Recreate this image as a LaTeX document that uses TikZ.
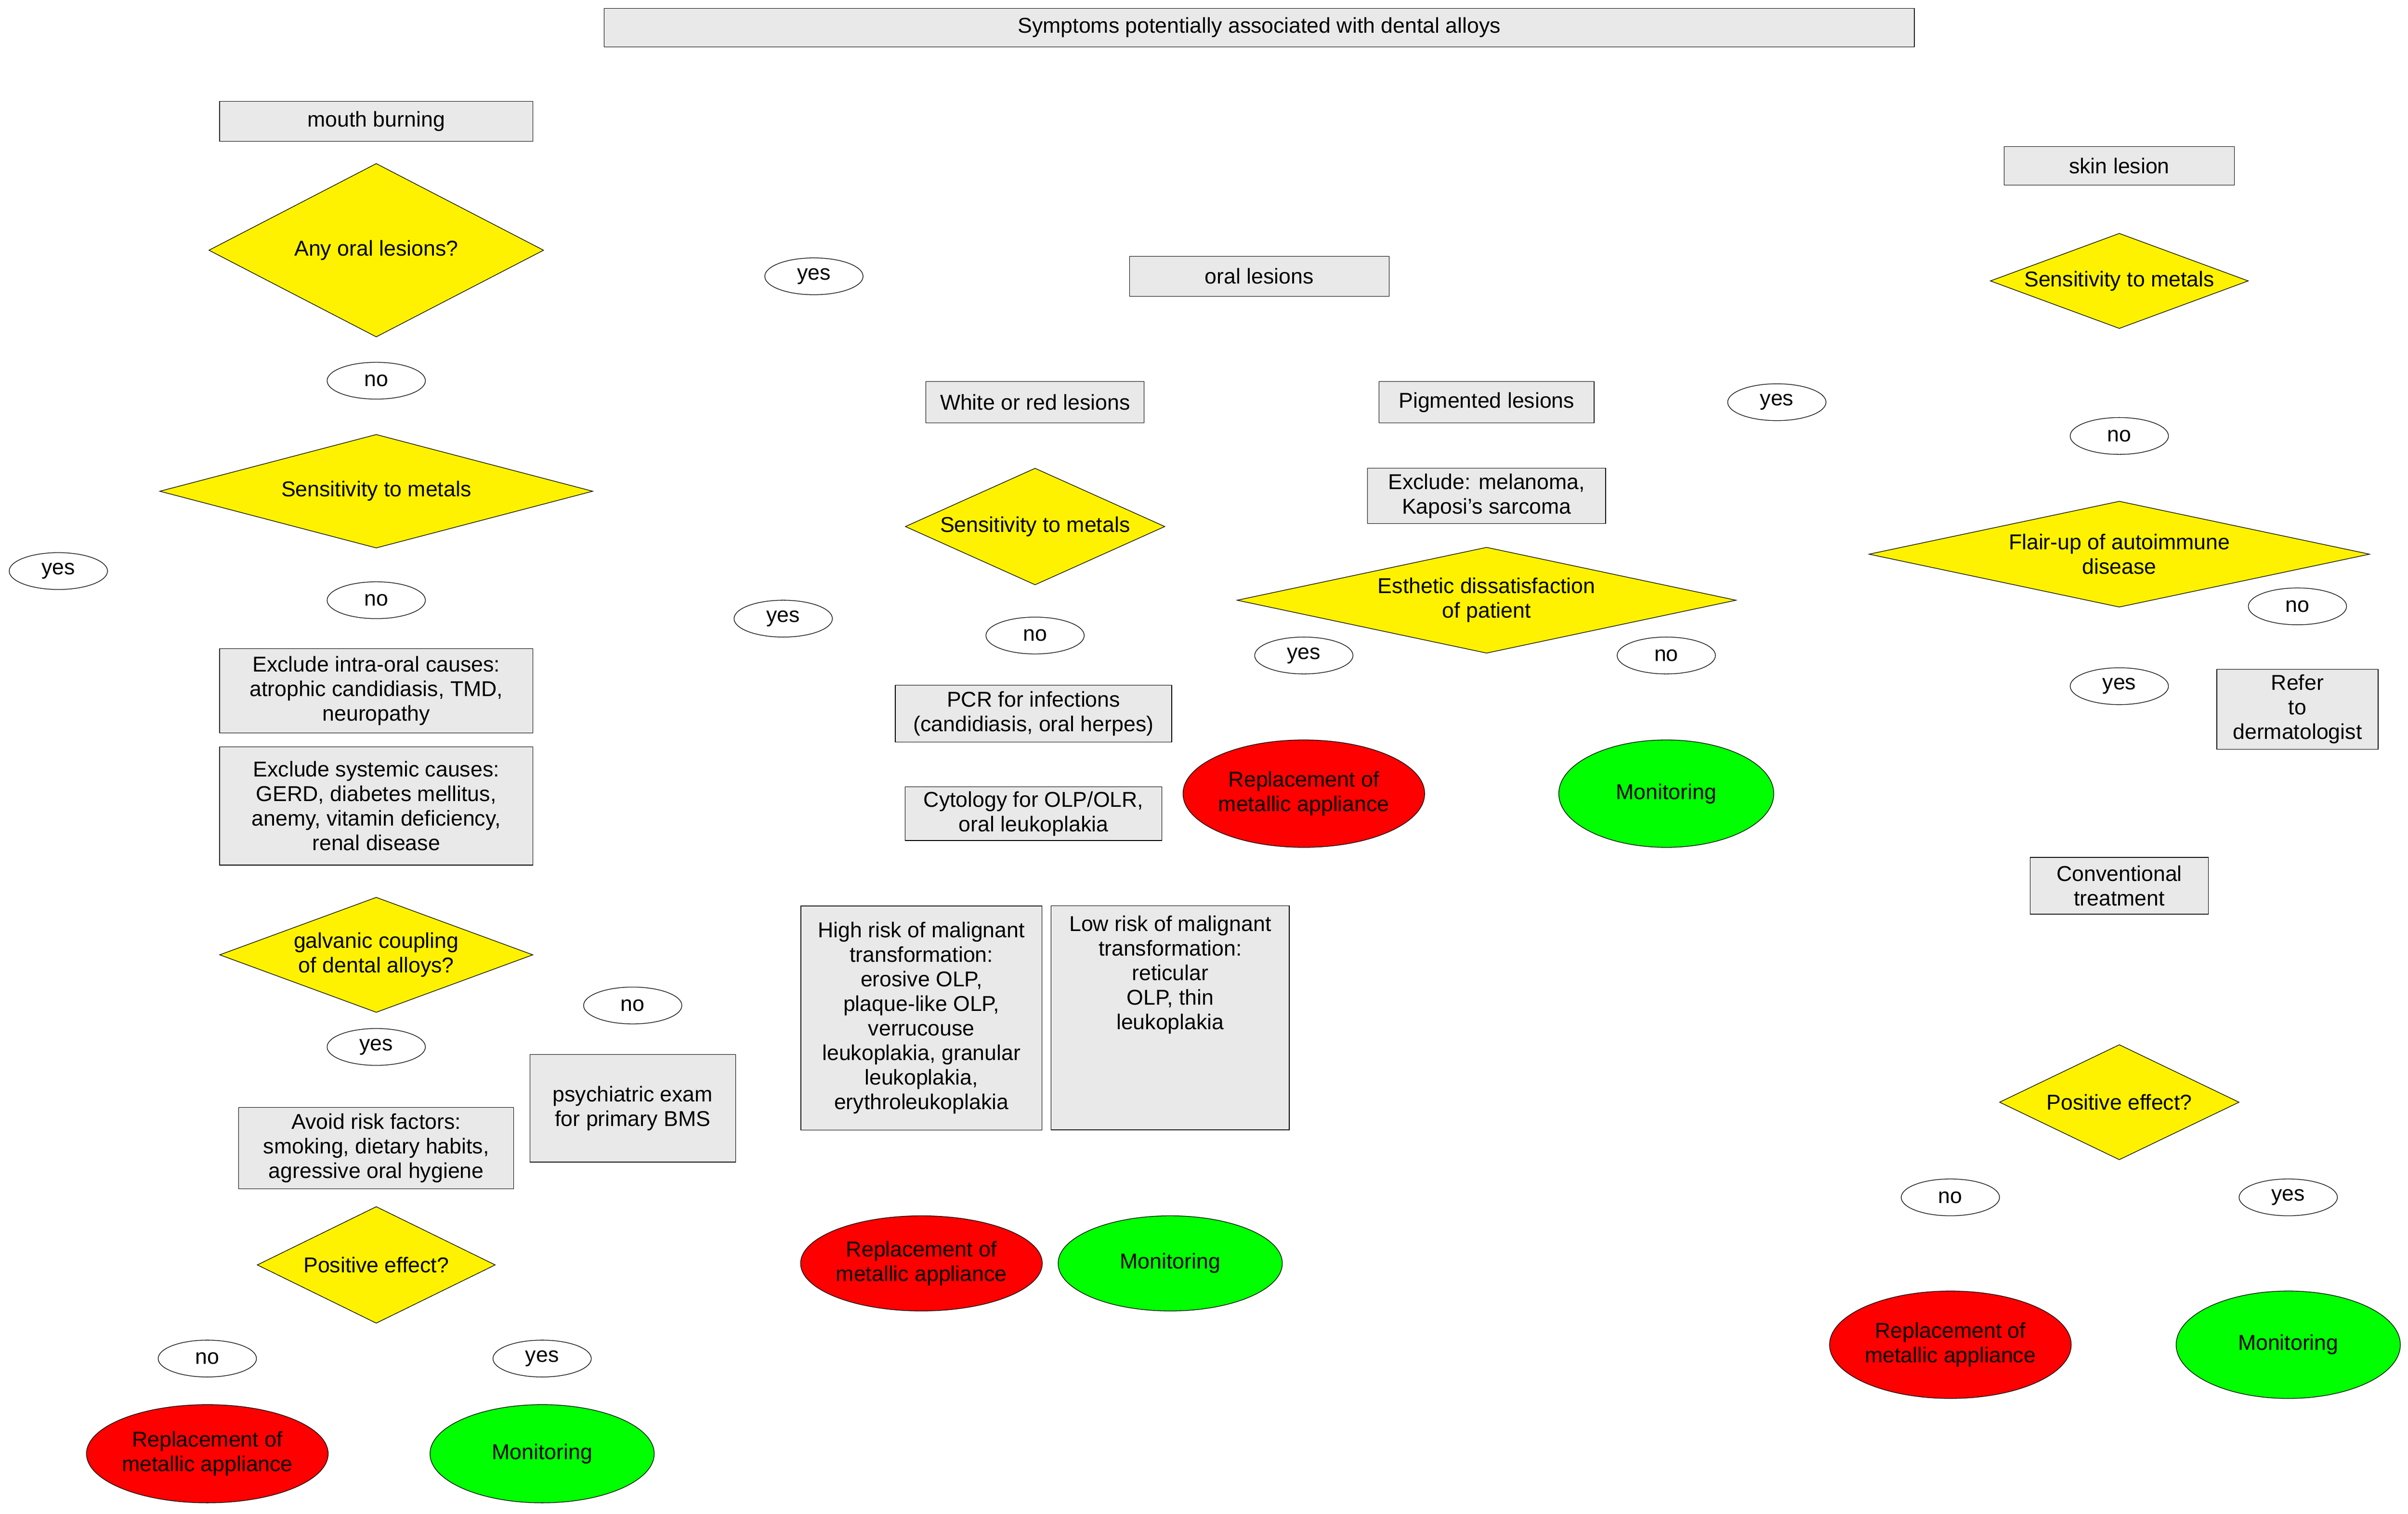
\documentclass[tikz,border=0pt]{standalone}
\usepackage{fontspec}
\setmainfont{Liberation Sans}
\usetikzlibrary{shapes.geometric,arrows.meta,backgrounds}
\begin{document}
\begin{tikzpicture}[x=1pt,y=-1pt,font=\fontsize{14}{16}\selectfont,
 box/.style 2 args={draw,fill=boxg,minimum width=#1pt,minimum height=#2pt,inner sep=1pt,align=center},
 dia/.style n args={3}{draw,diamond,fill=yellow,minimum width=#1pt,minimum height=#2pt,aspect=#3,inner sep=0pt,align=center},
 lab/.style={draw,ellipse,fill=white,minimum width=64pt,minimum height=24pt,inner sep=0pt},
 redo/.style 2 args={draw,ellipse,fill=red,minimum width=#1pt,minimum height=#2pt,inner sep=0pt,align=center},
 grn/.style 2 args={draw,ellipse,fill=green,minimum width=#1pt,minimum height=#2pt,inner sep=0pt,align=center},
 ar/.style={-{Stealth[length=9pt,width=7pt]}}]
\definecolor{boxg}{HTML}{E8E9E8}
\definecolor{green}{HTML}{00FF00}
\useasboundingbox[fill=white] (0,0) rectangle (1568,986);
% top
\node[box={853}{25}] (title) at (820,18) {Symptoms potentially associated with dental alloys};
\node[box={204}{26}] (mb) at (245,79) {mouth burning};
\node[box={169}{26}] (ol) at (820,180) {oral lesions};
\node[box={150}{25}] (sl) at (1380,108) {skin lesion};
% left column
\node[dia={218}{113}{1.93}] (d1) at (245,163) {Any oral lesions?};
\node[lab] (y1) at (530,180) {yes};
\node[lab] (n1) at (245,248) {no};
\node[dia={282}{74}{3.81}] (d2) at (245,320) {Sensitivity to metals};
\node[lab] (y2) at (38,372) {yes};
\node[lab] (n2) at (245,391) {no};
\node[box={204}{55}] (b1) at (245,450) {Exclude intra-oral causes:\\ atrophic candidiasis, TMD,\\ neuropathy};
\node[box={204}{77}] (b2) at (245,525) {Exclude systemic causes:\\ GERD, diabetes mellitus,\\ anemy, vitamin deficiency,\\ renal disease};
\node[dia={204}{75}{2.72}] (d3) at (245,622) {galvanic coupling\\ of dental alloys?};
\node[lab] (n3) at (412,655) {no};
\node[box={134}{70}] (b3) at (412,722) {psychiatric exam\\ for primary BMS};
\node[lab] (y3) at (245,682) {yes};
\node[box={179}{53}] (b4) at (245,748) {Avoid risk factors:\\ smoking, dietary habits,\\ agressive oral hygiene};
\node[dia={155}{76}{2.04}] (d4) at (245,824) {Positive effect?};
\node[lab] (n4) at (135,885) {no};
\node[lab] (y4) at (353,885) {yes};
\node[redo={146}{64}] (r1) at (135,947) {Replacement of\\ metallic appliance};
\node[grn={146}{64}] (g1) at (353,947) {Monitoring};
% middle
\node[box={142}{27}] (wr) at (674,262) {White or red lesions};
\node[box={140}{27}] (pl) at (968,262) {Pigmented lesions};
\node[dia={169}{76}{2.22}] (d5) at (674,343) {Sensitivity to metals};
\node[lab] (y5) at (510,403) {yes};
\node[lab] (n5) at (674,414) {no};
\node[box={180}{37}] (b5) at (673,465) {PCR for infections\\ (candidiasis, oral herpes)};
\node[box={167}{35}] (b6) at (673,530) {Cytology for OLP/OLR,\\ oral leukoplakia};
\node[box={157}{146},anchor=north] (b7) at (600,590) {High risk of malignant\\ transformation:\\ erosive OLP,\\ plaque-like OLP,\\ verrucouse\\ leukoplakia, granular\\ leukoplakia,\\ erythroleukoplakia};
\node[box={155}{146}] (b8) at (762,663) {};
\node[anchor=north,align=center] (b8t) at (762,593) {Low risk of malignant\\ transformation:\\ reticular\\ OLP, thin\\ leukoplakia};
\node[redo={146}{62}] (r2) at (600,823) {Replacement of\\ metallic appliance};
\node[grn={146}{62}] (g2) at (762,823) {Monitoring};
\node[box={155}{36}] (b9) at (968,323) {Exclude: melanoma,\\ Kaposi's sarcoma};
\node[dia={325}{69}{4.71}] (d6) at (968,391) {Esthetic dissatisfaction\\ of patient};
\node[lab] (y6) at (849,427) {yes};
\node[lab] (n6) at (1085,427) {no};
\node[redo={140}{70}] (r3) at (849,517) {Replacement of\\ metallic appliance};
\node[grn={140}{70}] (g3) at (1085,517) {Monitoring};
% right
\node[dia={168}{62}{2.71}] (d7) at (1380,183) {Sensitivity to metals};
\node[lab] (y7) at (1157,262) {yes};
\node[lab] (n7) at (1380,284) {no};
\node[dia={326}{69}{4.72}] (d8) at (1380,361) {Flair-up of autoimmune\\ disease};
\node[lab] (n8) at (1496,395) {no};
\node[box={105}{52}] (b10) at (1496,462) {Refer\\ to\\ dermatologist};
\node[lab] (y8) at (1380,447) {yes};
\node[box={116}{37}] (b11) at (1380,577) {Conventional\\ treatment};
\node[dia={156}{75}{2.08}] (d9) at (1380,718) {Positive effect?};
\node[lab] (n9) at (1270,780) {no};
\node[lab] (y9) at (1490,780) {yes};
\node[redo={146}{70}] (r4) at (1270,876) {Replacement of\\ metallic appliance};
\node[grn={146}{70}] (g4) at (1490,876) {Monitoring};
\begin{pgfonlayer}{background}
\coordinate (t1) at (700,31); \coordinate (t2) at (900,31);
\coordinate (o1) at (795,193); \coordinate (o2) at (845,193);
\coordinate (p1) at (940,248);
\coordinate (c1) at (660,547); \coordinate (c2) at (688,547);
\coordinate (h1) at (640,590); \coordinate (h2) at (714,590);
\draw[ar] (t1) -- (mb.east);
\draw[ar] (title) -- (ol);
\draw[ar] (t2) -- (sl.west);
\draw (mb) -- (d1);
\draw (d1.east) -- (y1); \draw[ar] (y1) -- (ol.west);
\draw (d1) -- (n1); \draw[ar] (n1) -- (d2.north);
\draw (d2.west) -| (y2); \draw[ar] (y2) |- (r1.west);
\draw (d2) -- (n2); \draw[ar] (n2) -- (b1.north);
\draw (b1) -- (b2); \draw[ar] (b2) -- (d3.north);
\draw (d3.east) -| (n3); \draw[ar] (n3) -- (b3.north);
\draw (d3) -- (y3); \draw[ar] (y3) -- (b4.north);
\draw (b4) -- (d4);
\draw (d4.west) -| (n4); \draw[ar] (n4) -- (r1.north);
\draw (d4.east) -| (y4); \draw[ar] (y4) -- (g1.north);
\draw[ar] (o1) -- (wr.north);
\draw[ar] (o2) -- (p1);
\draw (wr) -- (d5);
\draw (d5.west) -| (y5); \draw[ar] (y5) |- (r2.west);
\draw (d5) -- (n5); \draw (n5) -- (b5); \draw (b5) -- (b6);
\draw[ar] (c1) -- (h1);
\draw[ar] (c2) -- (h2);
\draw[ar] (b7) -- (r2); \draw[ar] (b8) -- (g2);
\draw (pl) -- (b9); \draw (b9) -- (d6);
\draw (y6) -- (y6 |- d6.center); \draw[ar] (y6) -- (r3);
\draw (n6) -- (n6 |- d6.center); \draw[ar] (n6) -- (g3);
\draw (sl) -- (d7);
\draw (d7.west) -| (y7); \draw[ar] (y7) |- (r4.west);
\draw (d7) -- (n7); \draw[ar] (n7) -- (d8.north);
\draw (n8) -- (n8 |- d8.center); \draw[ar] (n8) -- (b10);
\draw (d8) -- (y8); \draw[ar] (y8) -- (b11);
\draw[ar] (b11) -- (d9.north);
\draw (d9.west) -| (n9); \draw[ar] (n9) -- (r4);
\draw (d9.east) -| (y9); \draw[ar] (y9) -- (g4);
\end{pgfonlayer}
\end{tikzpicture}
\end{document}
